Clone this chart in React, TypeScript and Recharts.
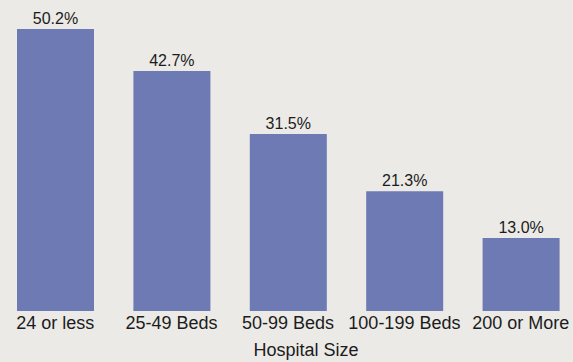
import { BarChart, Bar, XAxis, YAxis, LabelList, Label } from 'recharts';

const sizes = ['24 or less', '25-49 Beds', '50-99 Beds', '100-199 Beds', '200 or More'];
const shares = [50.2, 42.7, 31.5, 21.3, 13.0];

const data = sizes.map((size, i) => ({ size, share: shares[i] }));

const App = () => {
  return (
    <div
      style={{
        position: 'absolute',
        left: 0,
        top: 0,
        width: 573,
        height: 362,
        overflow: 'hidden',
        background: '#ebeae6',
        fontFamily: '"Liberation Sans", Arial, sans-serif',
      }}
    >
      <div style={{ marginLeft: -3 }}>
        <BarChart
          width={582}
          height={362}
          data={data}
          margin={{ top: 2, right: 0, bottom: 0, left: 0 }}
          barCategoryGap={0}
        >
          <XAxis
            dataKey="size"
            axisLine={false}
            tickLine={false}
            tickSize={0}
            tickMargin={5}
            height={51}
            interval={0}
            tick={{ fill: '#1c1c1c', fontSize: 18 }}
          >
            <Label
              value="Hospital Size"
              position="insideBottom"
              offset={6}
              dx={18}
              style={{ fill: '#1c1c1c', fontSize: 18 }}
            />
          </XAxis>
          <YAxis hide domain={[0, 55]} />
          <Bar dataKey="share" fill="#6e7ab3" barSize={77} isAnimationActive={false}>
            <LabelList
              dataKey="share"
              position="top"
              offset={5}
              formatter={(v: number) => `${v.toFixed(1)}%`}
              style={{ fill: '#1c1c1c', fontSize: 16 }}
            />
          </Bar>
        </BarChart>
      </div>
    </div>
  );
};

export default App;
